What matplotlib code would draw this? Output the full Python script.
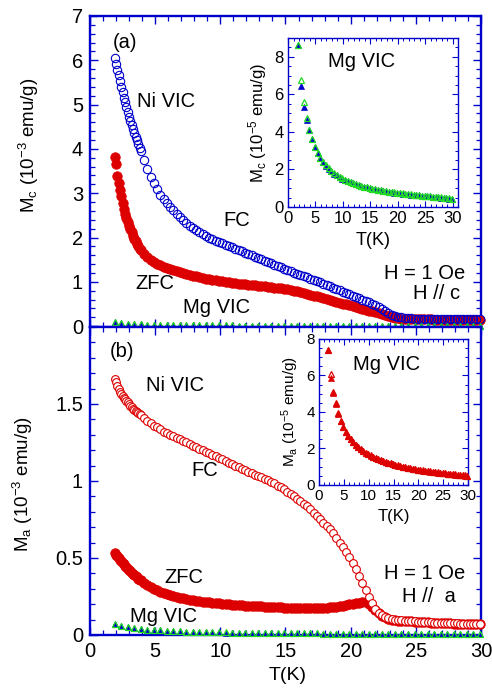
import numpy as np
import matplotlib
matplotlib.use('Agg')
import matplotlib.pyplot as plt
from matplotlib.ticker import MultipleLocator, FixedLocator, FuncFormatter

plt.rcParams['font.family'] = ['Liberation Sans', 'DejaVu Sans']
plt.rcParams['mathtext.fontset'] = 'custom'
plt.rcParams['mathtext.rm'] = 'Liberation Sans'
plt.rcParams['mathtext.it'] = 'Liberation Sans'
plt.rcParams['mathtext.default'] = 'regular'

# ---------------- data ----------------
# temperature grid of the Ni VIC measurements (K)
T_lo = np.round(np.arange(1.9, 3.85, 0.1), 2)      # 1.9 ... 3.8
T_hi = np.round(np.arange(3.9, 29.95, 0.25), 2)    # 3.9 ... 29.9
T_ni = np.concatenate([T_lo, T_hi])

# panel (a): M_c (1e-3 emu/g), Ni VIC
ni_c_fc = [
    6.05, 5.92, 5.79, 5.66, 5.53, 5.40, 5.28, 5.16, 5.05, 4.94,
    4.83, 4.73, 4.63, 4.54, 4.45, 4.36, 4.27, 4.19, 4.11, 4.03,
    3.95, 3.76, 3.55, 3.37, 3.22, 3.09, 2.97, 2.87,
    2.78, 2.69, 2.61, 2.53, 2.46, 2.39, 2.33, 2.27,
    2.21, 2.16, 2.12, 2.08, 2.04, 2.00, 1.96, 1.93,
    1.90, 1.87, 1.84, 1.81, 1.78, 1.75, 1.72, 1.69,
    1.66, 1.63, 1.60, 1.57, 1.54, 1.51, 1.48, 1.45,
    1.42, 1.39, 1.36, 1.33, 1.30, 1.27, 1.24, 1.21,
    1.18, 1.16, 1.13, 1.10, 1.07, 1.05, 1.02, 0.99,
    0.96, 0.93, 0.90, 0.87, 0.84, 0.81, 0.78, 0.75,
    0.72, 0.69, 0.66, 0.63, 0.60, 0.57, 0.54, 0.50,
    0.47, 0.43, 0.39, 0.34, 0.30, 0.26, 0.23, 0.21,
    0.20, 0.19, 0.18, 0.18, 0.17, 0.17, 0.17, 0.17,
    0.17, 0.17, 0.16, 0.16, 0.16, 0.16, 0.16, 0.16,
    0.16, 0.16, 0.16, 0.16, 0.16, 0.16, 0.16, 0.16,
    0.16]
ni_c_zfc = [
    3.82, 3.66, 3.38, 3.22, 3.07, 2.93, 2.78, 2.64, 2.54, 2.44,
    2.35, 2.27, 2.19, 2.12, 2.04, 1.97, 1.91, 1.85, 1.80, 1.75,
    1.71, 1.63, 1.56, 1.50, 1.45, 1.41, 1.37, 1.34,
    1.31, 1.28, 1.26, 1.24, 1.22, 1.20, 1.18, 1.16,
    1.14, 1.12, 1.10, 1.09, 1.07, 1.06, 1.04, 1.03,
    1.02, 1.01, 1.00, 0.99, 0.98, 0.97, 0.96, 0.95,
    0.94, 0.93, 0.93, 0.92, 0.91, 0.90, 0.90, 0.89,
    0.88, 0.87, 0.86, 0.85, 0.84, 0.83, 0.82, 0.80,
    0.79, 0.77, 0.75, 0.73, 0.71, 0.69, 0.67, 0.65,
    0.63, 0.61, 0.59, 0.57, 0.55, 0.53, 0.51, 0.49,
    0.47, 0.45, 0.43, 0.41, 0.39, 0.37, 0.35, 0.33,
    0.31, 0.29, 0.27, 0.25, 0.23, 0.21, 0.19, 0.18,
    0.17, 0.16, 0.16, 0.15, 0.15, 0.15, 0.15, 0.15,
    0.15, 0.15, 0.14, 0.14, 0.14, 0.14, 0.14, 0.14,
    0.14, 0.14, 0.14, 0.14, 0.14, 0.14, 0.14, 0.14,
    0.14]

# panel (b): M_a (1e-3 emu/g), Ni VIC
ni_a_fc = [
    1.66, 1.64, 1.62, 1.60, 1.58, 1.565, 1.55, 1.54, 1.53, 1.52,
    1.51, 1.50, 1.49, 1.48, 1.47, 1.46, 1.455, 1.45, 1.44, 1.435,
    1.43, 1.41, 1.39, 1.375, 1.36, 1.35, 1.335, 1.32,
    1.31, 1.30, 1.29, 1.28, 1.27, 1.26, 1.25, 1.24,
    1.23, 1.22, 1.21, 1.20, 1.19, 1.18, 1.17, 1.16,
    1.15, 1.14, 1.13, 1.12, 1.11, 1.10, 1.09, 1.08,
    1.07, 1.06, 1.05, 1.04, 1.035, 1.025, 1.015, 1.005,
    0.995, 0.985, 0.97, 0.96, 0.945, 0.93, 0.915, 0.90,
    0.885, 0.87, 0.85, 0.835, 0.815, 0.795, 0.775, 0.755,
    0.73, 0.71, 0.685, 0.66, 0.63, 0.60, 0.57, 0.54,
    0.505, 0.47, 0.43, 0.385, 0.34, 0.29, 0.245, 0.205,
    0.17, 0.145, 0.13, 0.12, 0.11, 0.105, 0.10, 0.097,
    0.095, 0.093, 0.091, 0.090, 0.088, 0.087, 0.085, 0.084,
    0.083, 0.082, 0.081, 0.080, 0.079, 0.078, 0.077, 0.076,
    0.075, 0.075, 0.074, 0.073, 0.072, 0.072, 0.071, 0.070,
    0.070]
ni_a_zfc = [
    0.53, 0.52, 0.51, 0.50, 0.49, 0.48, 0.47, 0.46, 0.45, 0.44,
    0.43, 0.42, 0.415, 0.405, 0.395, 0.39, 0.38, 0.375, 0.365, 0.36,
    0.355, 0.34, 0.325, 0.31, 0.30, 0.29, 0.28, 0.272,
    0.265, 0.258, 0.252, 0.247, 0.242, 0.238, 0.234, 0.23,
    0.226, 0.223, 0.22, 0.217, 0.214, 0.212, 0.21, 0.207,
    0.205, 0.203, 0.201, 0.199, 0.197, 0.196, 0.194, 0.193,
    0.191, 0.19, 0.189, 0.187, 0.186, 0.185, 0.184, 0.183,
    0.182, 0.181, 0.18, 0.179, 0.178, 0.177, 0.176, 0.175,
    0.174, 0.173, 0.172, 0.172, 0.172, 0.172, 0.173, 0.174,
    0.175, 0.177, 0.179, 0.181, 0.184, 0.187, 0.19, 0.194,
    0.198, 0.202, 0.206, 0.21, 0.213, 0.214, 0.20, 0.18,
    0.16, 0.14, 0.125, 0.115, 0.107, 0.10, 0.097, 0.094,
    0.092, 0.09, 0.089, 0.088, 0.086, 0.085, 0.084, 0.083,
    0.082, 0.081, 0.08, 0.079, 0.078, 0.077, 0.076, 0.075,
    0.074, 0.074, 0.073, 0.072, 0.071, 0.071, 0.07, 0.069,
    0.069]

# Mg VIC (1e-5 emu/g)
T_mg = np.round(np.arange(1.9, 29.95, 0.5), 2)   # 1.9 ... 29.9
mg_c_zfc = [
    8.60, 6.45, 5.35, 4.65, 4.08, 3.60, 3.20, 2.88,
    2.60, 2.38, 2.20, 2.04, 1.90, 1.78, 1.68, 1.59,
    1.51, 1.44, 1.38, 1.32, 1.27, 1.22, 1.17, 1.13,
    1.08, 1.04, 1.00, 0.97, 0.94, 0.91, 0.88, 0.86,
    0.84, 0.81, 0.79, 0.77, 0.75, 0.73, 0.71, 0.69,
    0.68, 0.66, 0.65, 0.63, 0.62, 0.60, 0.59, 0.57,
    0.56, 0.54, 0.53, 0.51, 0.50, 0.48, 0.47, 0.45,
    0.43]
mg_c_fc = [
    8.65, 6.77, 5.58, 4.72, 4.12, 3.63, 3.22, 2.90,
    2.62, 2.40, 2.22, 2.06, 1.92, 1.80, 1.69, 1.60,
    1.52, 1.45, 1.39, 1.33, 1.28, 1.23, 1.18, 1.14,
    1.09, 1.05, 1.01, 0.98, 0.95, 0.92, 0.89, 0.87,
    0.85, 0.82, 0.80, 0.78, 0.76, 0.74, 0.72, 0.70,
    0.69, 0.67, 0.66, 0.64, 0.63, 0.61, 0.60, 0.58,
    0.57, 0.55, 0.54, 0.52, 0.51, 0.49, 0.48, 0.46,
    0.44]
mg_a_zfc = [
    7.40, 5.85, 5.03, 4.42, 3.90, 3.50, 3.18, 2.92,
    2.70, 2.50, 2.34, 2.20, 2.07, 1.96, 1.86, 1.77,
    1.69, 1.61, 1.54, 1.48, 1.42, 1.37, 1.32, 1.27,
    1.22, 1.18, 1.14, 1.10, 1.06, 1.03, 1.00, 0.97,
    0.94, 0.91, 0.88, 0.86, 0.83, 0.81, 0.79, 0.77,
    0.75, 0.73, 0.71, 0.69, 0.68, 0.66, 0.64, 0.63,
    0.61, 0.60, 0.58, 0.57, 0.56, 0.54, 0.53, 0.51,
    0.50]
mg_a_fc = [
    7.40, 6.06, 5.12, 4.48, 3.93, 3.52, 3.19, 2.93,
    2.71, 2.51, 2.35, 2.21, 2.08, 1.97, 1.87, 1.78,
    1.70, 1.62, 1.55, 1.49, 1.43, 1.38, 1.33, 1.28,
    1.23, 1.19, 1.15, 1.11, 1.07, 1.04, 1.01, 0.98,
    0.95, 0.92, 0.89, 0.87, 0.84, 0.82, 0.80, 0.78,
    0.76, 0.74, 0.72, 0.70, 0.69, 0.67, 0.65, 0.64,
    0.62, 0.61, 0.59, 0.58, 0.57, 0.55, 0.54, 0.52,
    0.51]

# ---------------- style ----------------
BLUE = '#0000CC'
RED = '#DD0000'
GREEN = '#22DD22'

fig = plt.figure(figsize=(4.92, 6.89), dpi=100)
axA = fig.add_axes([0.1829, 0.5254, 0.7947, 0.4514])
axB = fig.add_axes([0.1829, 0.0784, 0.7947, 0.4470])


def style_main(ax):
    for s in ax.spines.values():
        s.set_color(BLUE)
        s.set_linewidth(1.7)
    ax.tick_params(which='both', direction='in', top=True, right=True,
                   color=BLUE, labelcolor='black', labelsize=14.5)
    ax.tick_params(which='major', length=6, width=1.0, pad=5)
    ax.tick_params(which='minor', length=3.5, width=0.9)
    ax.set_xlim(0, 30)
    ax.xaxis.set_major_locator(MultipleLocator(5))
    ax.xaxis.set_minor_locator(MultipleLocator(1))


def style_inset(ax, lsize):
    for s in ax.spines.values():
        s.set_color(BLUE)
        s.set_linewidth(1.0)
    ax.tick_params(which='both', direction='in', top=True, right=True,
                   color=BLUE, labelcolor='black', labelsize=lsize)
    ax.tick_params(which='major', length=4, width=0.8, pad=3)
    ax.tick_params(which='minor', length=2.2, width=0.7)
    ax.xaxis.set_major_locator(MultipleLocator(5))
    ax.xaxis.set_minor_locator(MultipleLocator(1))
    ax.yaxis.set_major_locator(MultipleLocator(2))
    ax.yaxis.set_minor_locator(MultipleLocator(0.5))


fmt = FuncFormatter(lambda v, p: '%g' % v)

# ---------------- panel (a) ----------------
style_main(axA)
axA.set_ylim(-0.02, 7)
axA.yaxis.set_major_locator(MultipleLocator(1))
axA.yaxis.set_minor_locator(MultipleLocator(0.2))
axA.yaxis.set_major_formatter(fmt)
axA.tick_params(labelbottom=False)

axA.plot(T_ni, ni_c_zfc, 'o', ms=6.8, mfc=RED, mec=RED, mew=0.6, ls='none',
         clip_on=False, zorder=3)
axA.plot(T_ni, ni_c_fc, 'o', ms=6.0, mfc='none', mec=BLUE, mew=0.8, ls='none',
         clip_on=False, zorder=4)
axA.plot(T_mg, np.array(mg_c_zfc) / 100, '^', ms=5, mfc=BLUE, mec=BLUE, mew=0.5,
         ls='none', clip_on=False, zorder=5)
axA.plot(T_mg, np.array(mg_c_fc) / 100, '^', ms=5, mfc='none', mec=GREEN, mew=0.9,
         ls='none', clip_on=False, zorder=6)

axA.set_ylabel('M$_c$ (10$^{-3}$ emu/g)', fontsize=13.5)
axA.yaxis.set_label_coords(-0.125, 0.585)

tk = dict(fontsize=14.5, color='black')
axA.text(1.75, 6.41, '(a)', ha='left', va='center', **tk)
axA.text(3.6, 5.06, 'Ni VIC', ha='left', va='center', **tk)
axA.text(10.2, 2.39, 'FC', ha='left', va='center', **tk)
axA.text(3.45, 0.97, 'ZFC', ha='left', va='center', **tk)
axA.text(7.1, 0.41, 'Mg VIC', ha='left', va='center', **tk)
axA.text(28.8, 1.18, 'H = 1 Oe', ha='right', va='center', **tk)
axA.text(28.4, 0.73, 'H // c', ha='right', va='center', **tk)

# ---------------- panel (b) ----------------
style_main(axB)
axB.set_ylim(0, 2.0)
axB.yaxis.set_major_locator(FixedLocator([0, 0.5, 1, 1.5]))
axB.yaxis.set_minor_locator(MultipleLocator(0.1))
axB.yaxis.set_major_formatter(fmt)
axB.xaxis.set_major_formatter(fmt)

axB.plot(T_ni, ni_a_zfc, 'o', ms=6.8, mfc=RED, mec=RED, mew=0.6, ls='none',
         clip_on=False, zorder=3)
axB.plot(T_ni, ni_a_fc, 'o', ms=5.6, mfc='white', mec=RED, mew=0.8, ls='none',
         clip_on=False, zorder=4)
axB.plot(T_mg, np.array(mg_a_zfc) / 100, '^', ms=5, mfc=BLUE, mec=BLUE, mew=0.5,
         ls='none', clip_on=False, zorder=5)
axB.plot(T_mg, np.array(mg_a_fc) / 100, '^', ms=5, mfc='none', mec=GREEN, mew=0.9,
         ls='none', clip_on=False, zorder=6)

axB.set_ylabel('M$_a$ (10$^{-3}$ emu/g)', fontsize=13.5)
axB.yaxis.set_label_coords(-0.14, 0.49)
axB.set_xlabel('T(K)', fontsize=14)
axB.xaxis.set_label_coords(0.506, -0.105)

axB.text(1.53, 1.84, '(b)', ha='left', va='center', **tk)
axB.text(4.3, 1.62, 'Ni VIC', ha='left', va='center', **tk)
axB.text(7.75, 1.065, 'FC', ha='left', va='center', **tk)
axB.text(5.7, 0.375, 'ZFC', ha='left', va='center', **tk)
axB.text(3.1, 0.12, 'Mg VIC', ha='left', va='center', **tk)
axB.text(28.8, 0.40, 'H = 1 Oe', ha='right', va='center', **tk)
axB.text(28.1, 0.25, 'H //  a', ha='right', va='center', **tk)

# ---------------- inset (a) ----------------
inA = fig.add_axes([0.5854, 0.6996, 0.3455, 0.2453])
style_inset(inA, 12)
inA.set_xlim(0, 31)
inA.set_ylim(0, 9)
inA.plot(T_mg, mg_c_zfc, '^', ms=5, mfc=BLUE, mec=BLUE, mew=0.5, ls='none',
         clip_on=False, zorder=3)
inA.plot(T_mg, mg_c_fc, '^', ms=5, mfc='none', mec=GREEN, mew=0.9, ls='none',
         clip_on=False, zorder=4)
inA.set_ylabel('M$_c$ (10$^{-5}$ emu/g)', fontsize=12)
inA.set_xlabel('T(K)', fontsize=13)
inA.text(7.3, 7.77, 'Mg VIC', ha='left', va='center', fontsize=14.5)

# ---------------- inset (b) ----------------
inB = fig.add_axes([0.6484, 0.2961, 0.3028, 0.2119])
style_inset(inB, 11)
inB.set_xlim(0, 30)
inB.set_ylim(0, 8)
inB.plot(T_mg, mg_a_fc, '^', ms=5, mfc='none', mec=RED, mew=0.9, ls='none',
         clip_on=False, zorder=3)
inB.plot(T_mg, mg_a_zfc, '^', ms=5, mfc=RED, mec=RED, mew=0.5, ls='none',
         clip_on=False, zorder=4)
inB.set_ylabel('M$_a$ (10$^{-5}$ emu/g)', fontsize=11)
inB.set_xlabel('T(K)', fontsize=12)
inB.text(6.85, 6.58, 'Mg VIC', ha='left', va='center', fontsize=14.5)

fig.savefig('out.png', dpi=100)
